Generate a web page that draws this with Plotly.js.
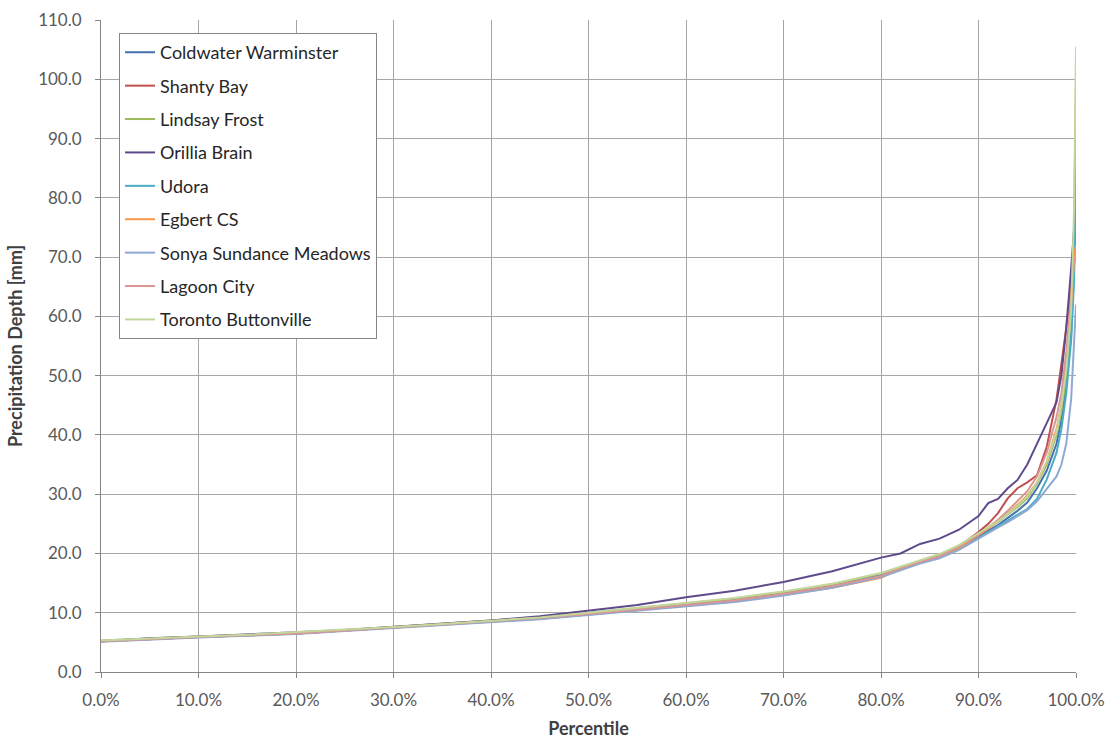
<!DOCTYPE html>
<html>
<head>
<meta charset="utf-8">
<script src="https://cdn.plot.ly/plotly-3.0.1.min.js"></script>
<style>html,body{margin:0;padding:0;background:#fff;}#chart{width:1114px;height:740px;}</style>
</head>
<body>
<div id="chart"></div>
<script>
// Percentile positions (fraction of records)
const percentiles = [0, 0.05, 0.10, 0.15, 0.20, 0.25, 0.30, 0.35, 0.40, 0.45, 0.50, 0.55, 0.60, 0.65, 0.70, 0.75, 0.80, 0.82, 0.84, 0.86, 0.88, 0.90, 0.91, 0.92, 0.93, 0.94, 0.95, 0.96, 0.97, 0.98, 0.985, 0.99, 0.995, 0.998, 1.0];

const stationNames = ["Coldwater Warminster", "Shanty Bay", "Lindsay Frost", "Orillia Brain", "Udora", "Egbert CS", "Sonya Sundance Meadows", "Lagoon City", "Toronto Buttonville"];

const coldwaterWarminster = [5.2, 5.6, 5.9, 6.2, 6.5, 7.0, 7.5, 8.0, 8.5, 9.1, 9.8, 10.6, 11.4, 12.2, 13.3, 14.6, 16.4, 17.5, 18.6, 19.6, 21.0, 22.9, 23.8, 24.8, 26.0, 27.2, 28.6, 31.0, 34.0, 38.5, 42.5, 48.0, 57.0, 68.0, 88.0];
const shantyBay = [5.2, 5.6, 5.9, 6.2, 6.5, 7.0, 7.5, 8.0, 8.5, 9.1, 9.8, 10.5, 11.2, 12.0, 13.1, 14.3, 16.0, 17.6, 18.7, 19.5, 21.2, 23.6, 25.0, 26.8, 29.3, 31.0, 32.0, 33.2, 38.0, 46.0, 52.0, 58.0, 65.0, 71.0, 75.0];
const lindsayFrost = [5.3, 5.7, 6.0, 6.3, 6.6, 7.1, 7.6, 8.1, 8.6, 9.2, 10.0, 10.8, 11.6, 12.4, 13.5, 14.8, 16.6, 17.7, 18.8, 19.8, 21.3, 23.3, 24.3, 25.3, 26.6, 27.8, 29.3, 31.8, 35.0, 40.0, 44.0, 50.0, 60.0, 75.0, 100.0];
const orilliaBrain = [5.2, 5.7, 6.0, 6.3, 6.7, 7.1, 7.6, 8.1, 8.7, 9.4, 10.3, 11.3, 12.6, 13.7, 15.2, 17.0, 19.3, 20.0, 21.6, 22.5, 24.0, 26.3, 28.5, 29.2, 31.0, 32.4, 35.0, 38.5, 42.0, 45.5, 50.0, 58.0, 68.0, 74.0, 79.0];
const udora = [5.2, 5.6, 5.9, 6.2, 6.5, 7.0, 7.5, 8.0, 8.5, 9.0, 9.7, 10.5, 11.2, 12.0, 13.1, 14.4, 16.2, 17.4, 18.5, 19.4, 20.8, 22.6, 23.6, 24.6, 25.6, 26.6, 27.5, 29.2, 32.5, 37.0, 41.0, 47.0, 56.0, 66.0, 83.0];
const egbertCS = [5.2, 5.6, 5.9, 6.2, 6.5, 7.0, 7.5, 8.0, 8.5, 9.0, 9.7, 10.4, 11.1, 11.9, 13.0, 14.2, 15.9, 17.4, 18.5, 19.3, 20.9, 23.0, 24.2, 25.4, 26.8, 28.2, 29.8, 32.0, 35.5, 41.0, 45.0, 52.0, 62.0, 70.0, 72.0];
const sonyaSundanceMeadows = [5.1, 5.5, 5.8, 6.1, 6.4, 6.9, 7.4, 7.9, 8.4, 8.9, 9.6, 10.3, 11.0, 11.8, 12.9, 14.2, 16.0, 17.2, 18.3, 19.2, 20.6, 22.5, 23.5, 24.4, 25.3, 26.3, 27.3, 28.8, 31.0, 33.0, 35.0, 38.5, 46.0, 55.0, 62.0];
const lagoonCity = [5.2, 5.6, 5.9, 6.2, 6.5, 7.0, 7.5, 8.0, 8.5, 9.1, 9.8, 10.5, 11.3, 12.1, 13.2, 14.5, 16.2, 17.6, 18.6, 19.5, 21.1, 23.2, 24.4, 25.7, 27.2, 28.8, 30.5, 33.0, 37.0, 43.0, 47.0, 54.0, 63.0, 69.0, 70.0];
const torontoButtonville = [5.3, 5.7, 6.0, 6.3, 6.7, 7.1, 7.6, 8.1, 8.6, 9.2, 10.0, 10.8, 11.7, 12.5, 13.6, 14.9, 16.7, 17.8, 18.9, 19.9, 21.4, 23.4, 24.4, 25.4, 26.7, 28.0, 29.6, 32.0, 35.5, 40.5, 45.0, 51.0, 61.0, 78.0, 105.5];

const seriesValues = [coldwaterWarminster, shantyBay, lindsayFrost, orilliaBrain, udora, egbertCS, sonyaSundanceMeadows, lagoonCity, torontoButtonville];
const seriesColors = ["#4472B0", "#C0504D", "#9BBB59", "#5F4B8B", "#4BACC6", "#F79646", "#8EAAD4", "#D99694", "#C3D69B"];

const yTicks = [0, 10, 20, 30, 40, 50, 60, 70, 80, 90, 100, 110];
const xTicks = [0, 0.1, 0.2, 0.3, 0.4, 0.5, 0.6, 0.7, 0.8, 0.9, 1.0];

const FONT = "Lato, 'Open Sans', sans-serif";

const traces = stationNames.map((name, i) => ({
  type: "scatter",
  mode: "lines",
  name: name,
  legendgroup: "g" + i,
  x: percentiles,
  y: seriesValues[i],
  line: {color: seriesColors[i], width: 2},
  hoverinfo: "x+y+name"
}));

const layout = {
  width: 1114,
  height: 740,
  margin: {l: 101, r: 38, t: 20, b: 68},
  paper_bgcolor: "#ffffff",
  plot_bgcolor: "#ffffff",
  font: {family: FONT, size: 17, color: "#404040"},
  showlegend: true,
  legend: {
    x: 0.0185, y: 0.98, xanchor: "left", yanchor: "top",
    bgcolor: "#ffffff",
    bordercolor: "#868686",
    borderwidth: 1,
    traceorder: "grouped",
    tracegroupgap: 7,
    font: {family: FONT, size: 18, color: "#262626"}
  },
  xaxis: {
    range: [0, 1],
    tickvals: xTicks,
    tickformat: ".1%",
    showgrid: true,
    gridcolor: "#A6A6A6",
    gridwidth: 1,
    showline: true,
    linecolor: "#868686",
    linewidth: 1,
    ticks: "outside",
    ticklen: 5,
    tickcolor: "#868686",
    ticklabelstandoff: 8,
    zeroline: false,
    tickfont: {family: FONT, size: 17, color: "#595959"},
    title: {text: "<b>Percentile</b>", font: {family: FONT, size: 18, color: "#404040"}, standoff: 12}
  },
  yaxis: {
    range: [0, 110],
    tickvals: yTicks,
    tickformat: ".1f",
    showgrid: true,
    gridcolor: "#A6A6A6",
    gridwidth: 1,
    showline: true,
    linecolor: "#868686",
    linewidth: 1,
    ticks: "outside",
    ticklen: 5,
    tickcolor: "#868686",
    ticklabelstandoff: 10,
    zeroline: false,
    tickfont: {family: FONT, size: 17, color: "#595959"},
    title: {text: "<b>Precipitation Depth [mm]</b>", font: {family: FONT, size: 18, color: "#404040"}, standoff: 10}
  }
};

Plotly.newPlot("chart", traces, layout, {displayModeBar: false, responsive: false});
</script>
</body>
</html>
